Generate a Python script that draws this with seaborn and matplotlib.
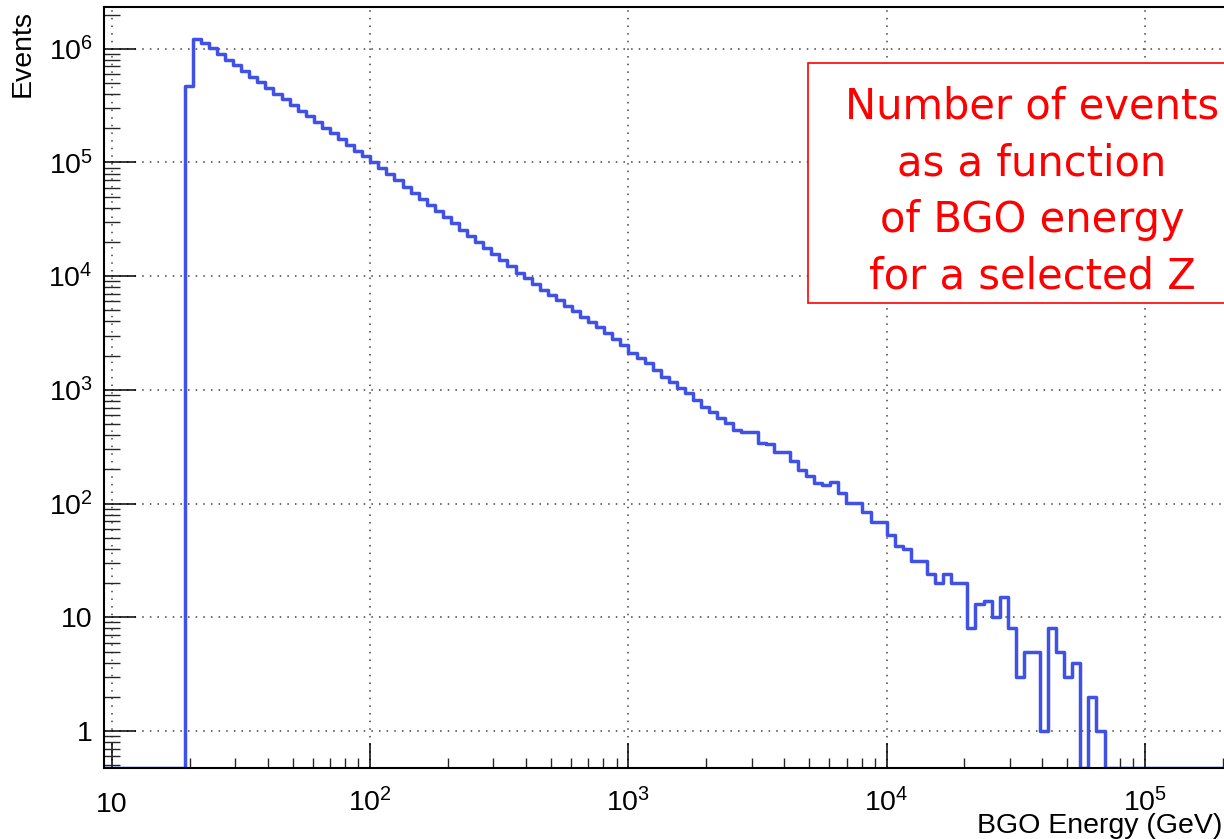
import numpy as np
import pandas as pd
import matplotlib
matplotlib.use("Agg")
import matplotlib.pyplot as plt
import seaborn as sns
from matplotlib import ticker
from matplotlib.patches import Rectangle

# Histogram binning: 32 logarithmic bins per decade between 10^(31/32) and 10^(176/32) GeV
bins_per_decade = 32
first_edge_exp = 31
last_edge_exp = 176

# Events per bin for the filled part of the spectrum (bins 41 .. 154 in units of 1/32 decade)
first_filled_bin = 41
bgo_counts = [
    473000, 1210000, 1130000, 1010000, 902000, 804000, 716000, 638000, 569000, 507000,
    452000, 403000, 359000, 320000, 285000, 254000, 226000, 202000, 180000, 160000,
    143000, 127000, 114000, 101000, 89100, 78700, 69500, 61400, 54200, 47900,
    42300, 37300, 33000, 29100, 25700, 22700, 20000, 17700, 15600, 13800,
    12200, 10700, 9550, 8510, 7620, 6840, 6140, 5500, 4920, 4420,
    3960, 3550, 3160, 2820, 2480, 2100, 1900, 1710, 1500, 1310,
    1180, 1030, 933, 815, 711, 643, 562, 508, 444, 430,
    422, 339, 337, 286, 282, 236, 199, 175, 153, 145,
    155, 124, 102, 101, 85, 69, 69, 53, 42, 40,
    31, 31, 24, 20, 24, 20, 20, 8, 13, 14,
    10, 15, 8, 3, 5, 5, 1, 8, 5, 3,
    4, 0, 2, 1,
]

x_title = "BGO Energy (GeV)"
y_title = "Events"
note_lines = ["Number of events", "as a function", "of BGO energy", "for a selected Z"]

x_decades = [1, 2, 3, 4, 5]
y_decades = [0, 1, 2, 3, 4, 5, 6]
y_limits = (0.4726, 2.317e6)

# ---------------------------------------------------------------- style
sns.set_style("ticks")
plt.rcParams["font.family"] = ["Liberation Sans", "DejaVu Sans"]
plt.rcParams["mathtext.fontset"] = "custom"
plt.rcParams["mathtext.rm"] = "Liberation Sans"
plt.rcParams["mathtext.it"] = "Liberation Sans:italic"
plt.rcParams["mathtext.bf"] = "Liberation Sans:bold"

W, H = 1224, 839
fig = plt.figure(figsize=(W / 100, H / 100), dpi=100)
fig.patch.set_facecolor("white")

# axes frame: left edge at x=104 px, bottom at y=768 px, top at y=7 px;
# the right part of the frame runs past the figure border
ax_left, ax_right, ax_top, ax_bottom = 104, 1274, 7.3, 768
ax = fig.add_axes([ax_left / W, (H - ax_bottom) / H,
                   (ax_right - ax_left) / W, (ax_bottom - ax_top) / H])
ax.set_facecolor("white")
ax.set_xscale("log")
ax.set_yscale("log")

# ---------------------------------------------------------------- data table
n_bins = last_edge_exp - first_edge_exp
edges = np.logspace(first_edge_exp / bins_per_decade, last_edge_exp / bins_per_decade, n_bins + 1)
counts = np.zeros(n_bins)
start = first_filled_bin - first_edge_exp
counts[start:start + len(bgo_counts)] = bgo_counts

# empty bins are drawn on the lower frame edge, as in a ROOT step histogram
floor = y_limits[0]
step_y = np.where(counts > 0, counts, floor)
hist_df = pd.DataFrame({
    "energy": edges,
    "events": np.append(step_y, step_y[-1]),
})

sns.lineplot(data=hist_df, x="energy", y="events", ax=ax,
             estimator=None, sort=False, drawstyle="steps-post",
             color="#3f51e6", linewidth=2.5, zorder=3)

ax.set_xlim(edges[0], edges[-1])
ax.set_ylim(*y_limits)
ax.set_xlabel("")
ax.set_ylabel("")

# ---------------------------------------------------------------- ticks


def log_label(v, pos, trailing=""):
    if v <= 0:
        return ""
    e = int(round(np.log10(v)))
    if e == 0:
        return "1"
    if e == 1:
        return "10"
    return r"$\mathregular{10^{%d}}$%s" % (e, trailing)


def minor_positions(lo, hi):
    vals = [m * 10.0 ** d for d in range(-1, 7) for m in range(2, 10)]
    return [v for v in vals if lo < v < hi]


ax.xaxis.set_major_locator(ticker.FixedLocator([10.0 ** d for d in x_decades]))
ax.yaxis.set_major_locator(ticker.FixedLocator([10.0 ** d for d in y_decades]))
ax.xaxis.set_minor_locator(ticker.FixedLocator(minor_positions(edges[0], edges[-1])))
ax.yaxis.set_minor_locator(ticker.FixedLocator(minor_positions(*y_limits)))
ax.xaxis.set_minor_formatter(ticker.NullFormatter())
ax.yaxis.set_minor_formatter(ticker.NullFormatter())

ax.xaxis.set_major_formatter(ticker.FuncFormatter(log_label))
ax.yaxis.set_major_formatter(ticker.FuncFormatter(lambda v, p: log_label(v, p, r"$\ $")))

ax.tick_params(axis="x", which="major", direction="in", length=18, width=1.1,
               labelsize=20.5, pad=31.5, colors="black")
ax.tick_params(axis="x", which="minor", direction="in", length=7.5, width=1.0)
ax.tick_params(axis="y", which="major", direction="in", length=23, width=1.1,
               labelsize=20.5, pad=8, colors="black")
ax.tick_params(axis="y", which="minor", direction="in", length=11.5, width=1.0)

ax.grid(True, which="major", color="0.25", linestyle=(0, (1, 4)), linewidth=1.1)
ax.set_axisbelow(True)

for side in ("left", "bottom", "top", "right"):
    ax.spines[side].set_visible(True)
    ax.spines[side].set_color("black")
    ax.spines[side].set_linewidth(1.5)
    ax.spines[side].set_zorder(4)

# ---------------------------------------------------------------- titles
fig.text(23 / W, 1 - 10 / H, y_title, rotation=90, ha="center", va="top",
         fontsize=20.5, color="black")
fig.text(1222 / W, (H - 833) / H, x_title, ha="right", va="baseline",
         fontsize=20.5, color="black")

# ---------------------------------------------------------------- note box
box_l, box_t, box_b = 808, 63.3, 303
fig.patches.append(Rectangle((box_l / W, (H - box_b) / H), (W + 40 - box_l) / W,
                             (box_b - box_t) / H, transform=fig.transFigure,
                             facecolor="white", edgecolor="red", linewidth=1.2,
                             zorder=5))
first_baseline, line_gap, note_cx = 118.3, 56.7, 1032
for i, line in enumerate(note_lines):
    fig.text(note_cx / W, (H - (first_baseline + i * line_gap)) / H, line,
             ha="center", va="baseline", fontsize=30, color="red",
             family=["DejaVu Sans"], zorder=6)

# tick labels sit on a common baseline below the x axis
fig.canvas.draw()
for lab in ax.get_xticklabels():
    lab.set_va("baseline")

fig.savefig("out.png", dpi=100, facecolor="white")
